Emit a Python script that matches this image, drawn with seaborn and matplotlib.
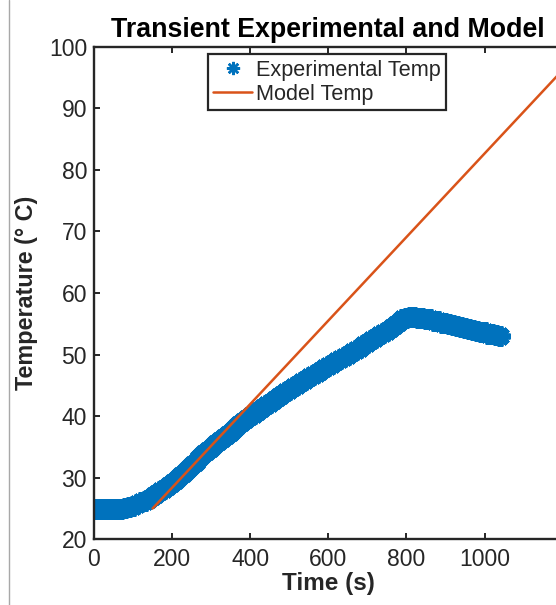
import numpy as np
import pandas as pd
import matplotlib
matplotlib.use("Agg")
import matplotlib.pyplot as plt
import seaborn as sns

# ---- data ----
exp_time = [0, 10, 20, 30, 40, 50, 60, 70, 80, 90,
            100, 110, 120, 130, 140, 150, 160, 170, 180, 190,
            200, 210, 220, 230, 240, 250, 260, 270, 280, 290,
            300, 310, 320, 330, 340, 350, 360, 370, 380, 390,
            400, 410, 420, 430, 440, 450, 460, 470, 480, 490,
            500, 510, 520, 530, 540, 550, 560, 570, 580, 590,
            600, 610, 620, 630, 640, 650, 660, 670, 680, 690,
            700, 710, 720, 730, 740, 750, 760, 770, 780, 790,
            800, 810, 820, 830, 840, 850, 860, 870, 880, 890,
            900, 910, 920, 930, 940, 950, 960, 970, 980, 990,
            1000, 1010, 1020, 1030, 1040]
exp_temp = [25.0, 25.0, 24.9, 24.9, 24.9, 24.9, 24.9, 25.0, 25.1, 25.2,
            25.4, 25.7, 26.0, 26.3, 26.6, 27.0, 27.4, 27.8, 28.2, 28.6,
            29.1, 29.6, 30.2, 30.8, 31.4, 32.0, 32.6, 33.2, 33.8, 34.4,
            34.9, 35.4, 35.9, 36.5, 37.0, 37.5, 38.0, 38.5, 39.0, 39.5,
            40.0, 40.4, 40.9, 41.3, 41.8, 42.2, 42.6, 43.1, 43.5, 43.9,
            44.3, 44.7, 45.1, 45.5, 45.9, 46.3, 46.7, 47.0, 47.4, 47.8,
            48.1, 48.5, 48.9, 49.3, 49.6, 50.0, 50.4, 50.8, 51.1, 51.5,
            51.9, 52.3, 52.7, 53.1, 53.5, 53.9, 54.3, 54.8, 55.3, 55.7,
            56.0, 56.1, 56.1, 56.0, 55.9, 55.8, 55.7, 55.5, 55.4, 55.2,
            55.1, 54.9, 54.8, 54.6, 54.5, 54.3, 54.2, 54.0, 53.9, 53.7,
            53.6, 53.4, 53.3, 53.1, 53.0]

model_time = [150, 1200]
model_temp = [25.0, 96.2]

x_ticks = [0, 200, 400, 600, 800, 1000]
y_ticks = [20, 30, 40, 50, 60, 70, 80, 90, 100]

title = "Transient Experimental and Model"
x_label = "Time (s)"
y_label = "Temperature (\u00b0 C)"
labels = ["Experimental Temp", "Model Temp"]

# ---- style ----
sns.set_style("ticks")
plt.rcParams["font.family"] = ["Liberation Sans", "DejaVu Sans"]
dark = "#262626"
blue = "#0072BD"
orange = "#D95319"

fig = plt.figure(figsize=(5.56, 6.05), dpi=100)
ax = fig.add_axes([94 / 556, 1 - 539.3 / 605, 468.6 / 556, 492.6 / 605])

exp_df = pd.DataFrame({"t": exp_time, "T": exp_temp})
mod_df = pd.DataFrame({"t": model_time, "T": model_temp})

sns.lineplot(data=exp_df, x="t", y="T", ax=ax, color=blue, linestyle="none",
             marker=(8, 2, 0), markersize=14.5, markeredgewidth=4.2,
             markeredgecolor=blue, label=labels[0])
sns.lineplot(data=mod_df, x="t", y="T", ax=ax, color=orange, linewidth=1.8,
             label=labels[1])

ax.set_xlim(0, 1200)
ax.set_ylim(20, 100)
ax.set_xticks(x_ticks)
ax.set_yticks(y_ticks)

for s in ax.spines.values():
    s.set_color(dark)
    s.set_linewidth(1.7)
ax.tick_params(direction="in", top=True, right=True, length=4, width=1.4,
               colors=dark, labelsize=16.5, labelcolor=dark)
ax.tick_params(axis="y", pad=5)
ax.tick_params(axis="x", pad=6)

ax.set_title(title, fontsize=19.3, fontweight="bold", color="black", pad=7)
ax.set_xlabel(x_label, fontsize=17.5, fontweight="bold", color=dark, labelpad=1)
ax.set_ylabel(y_label, fontsize=16.8, fontweight="bold", color=dark, labelpad=8)

leg = ax.legend(loc="upper center", bbox_to_anchor=(0.497, 0.985), fontsize=15.6,
                frameon=True, fancybox=False, framealpha=1, edgecolor=dark,
                handlelength=1.8, handletextpad=0.15, borderpad=0.25,
                labelspacing=0.15, borderaxespad=0)
leg.get_frame().set_linewidth(1.6)
for t in leg.get_texts():
    t.set_color(dark)
for h in leg.legend_handles:
    if h.get_marker() not in (None, "None", ""):
        h.set_markersize(9.5)
        h.set_markeredgewidth(1.8)

# thin gray border line at the left of the figure
fig.add_artist(plt.Line2D([9 / 556, 9 / 556], [0, 1], transform=fig.transFigure,
                          color="#A8A8A8", linewidth=1.0))

fig.savefig("out.png", dpi=100, facecolor="white")
